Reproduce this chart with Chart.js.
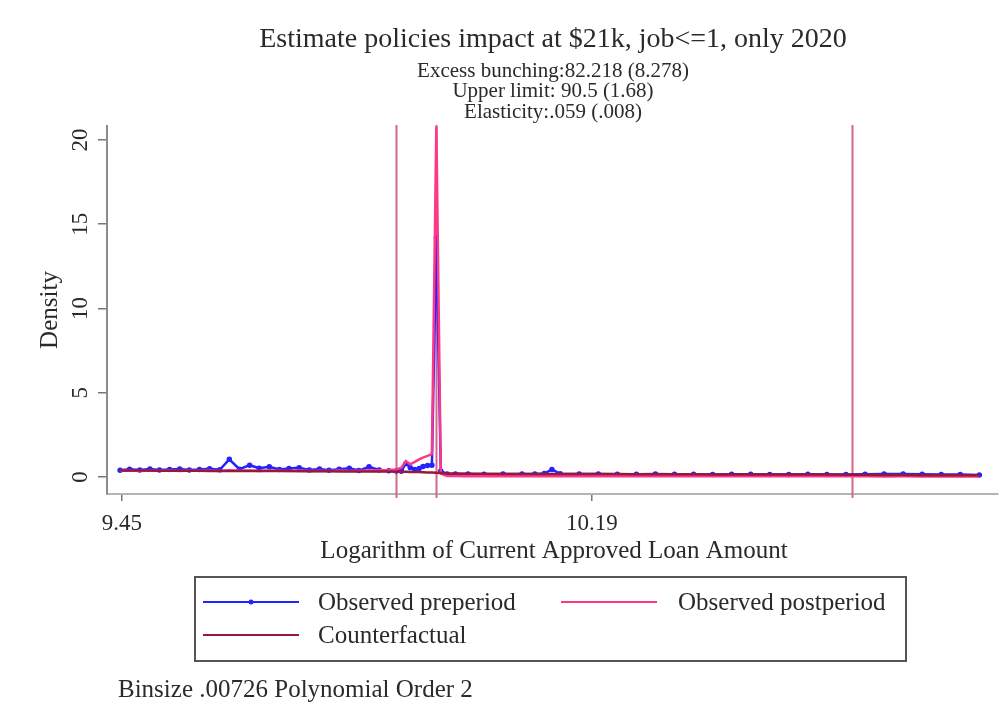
<!DOCTYPE html>
<html>
<head>
<meta charset="utf-8">
<script src="https://cdn.jsdelivr.net/npm/chart.js@4/dist/chart.umd.min.js"></script>
<style>
  html, body { margin: 0; padding: 0; background: #fff; }
  #wrap { width: 1002px; height: 709px; }
</style>
</head>
<body>
<div id="wrap"><canvas id="bunchChart" width="1002" height="709"></canvas></div>
<script>
// log loan amount bins
const binX = [
  9.447, 9.462, 9.478, 9.494, 9.509, 9.525, 9.541, 9.556, 9.572, 9.588,
  9.604, 9.619, 9.635, 9.651, 9.666, 9.682, 9.698, 9.713, 9.729, 9.745,
  9.761, 9.776, 9.792, 9.808, 9.823, 9.839, 9.855, 9.870, 9.882, 9.890,
  9.897, 9.904, 9.911, 9.918, 9.924, 9.931, 9.938, 9.945, 9.952, 9.962,
  9.975, 9.995, 10.02, 10.05, 10.08, 10.10, 10.115, 10.127, 10.14, 10.17,
  10.20, 10.23, 10.26, 10.29, 10.32, 10.35, 10.38, 10.41, 10.44, 10.47,
  10.50, 10.53, 10.56, 10.59, 10.62, 10.65, 10.68, 10.71, 10.74, 10.77, 10.80
];

// observed density before the policy
const prePeriod = [
  0.40, 0.46, 0.42, 0.47, 0.41, 0.45, 0.48, 0.42, 0.44, 0.49,
  0.43, 1.05, 0.46, 0.70, 0.52, 0.60, 0.44, 0.50, 0.55, 0.42,
  0.48, 0.40, 0.46, 0.52, 0.38, 0.60, 0.42, 0.37, 0.36, 0.34,
  0.80, 0.55, 0.45, 0.50, 0.62, 0.68, 0.70, 14.2, 0.35, 0.18,
  0.17, 0.18, 0.16, 0.17, 0.18, 0.17, 0.20, 0.45, 0.19, 0.17,
  0.17, 0.16, 0.16, 0.17, 0.16, 0.16, 0.15, 0.16, 0.16, 0.15,
  0.15, 0.16, 0.15, 0.15, 0.16, 0.17, 0.17, 0.16, 0.15, 0.14, 0.12
];

// observed density after the policy
const postPeriod = [
  0.37, 0.38, 0.36, 0.39, 0.37, 0.38, 0.36, 0.39, 0.37, 0.38,
  0.36, 0.40, 0.37, 0.39, 0.36, 0.38, 0.37, 0.36, 0.38, 0.35,
  0.37, 0.36, 0.38, 0.35, 0.37, 0.39, 0.40, 0.42, 0.45, 0.55,
  0.95, 0.75, 0.90, 1.05, 1.15, 1.25, 1.35, 20.8, 0.20, 0.06,
  0.06, 0.05, 0.05, 0.04, 0.05, 0.04, 0.05, 0.06, 0.05, 0.04,
  0.05, 0.04, 0.04, 0.05, 0.04, 0.04, 0.05, 0.04, 0.04, 0.05,
  0.04, 0.04, 0.05, 0.04, 0.04, 0.03, 0.04, 0.03, 0.03, 0.03, 0.03
];

// polynomial counterfactual (order 2)
const counterfactual = [
  0.38, 0.38, 0.38, 0.38, 0.37, 0.37, 0.37, 0.37, 0.37, 0.36,
  0.36, 0.36, 0.36, 0.36, 0.35, 0.35, 0.35, 0.35, 0.34, 0.34,
  0.34, 0.34, 0.33, 0.33, 0.33, 0.32, 0.32, 0.32, 0.31, 0.31,
  0.31, 0.30, 0.30, 0.29, 0.28, 0.27, 0.26, 0.25, 0.23, 0.21,
  0.20, 0.19, 0.19, 0.18, 0.18, 0.18, 0.18, 0.18, 0.17, 0.17,
  0.17, 0.17, 0.16, 0.16, 0.16, 0.16, 0.15, 0.15, 0.15, 0.15,
  0.14, 0.14, 0.14, 0.13, 0.13, 0.12, 0.12, 0.11, 0.11, 0.10, 0.10
];

// lower limit, bunching point, upper limit
const markerLines = [9.882, 9.945, 10.60];

const xTicks = [9.45, 10.19];
const xTickLabels = ['9.45', '10.19'];
const yTicks = [0, 5, 10, 15, 20];
const yTickLabels = ['0', '5', '10', '15', '20'];

const titleText = 'Estimate policies impact at $21k, job<=1, only 2020';
const subtitleLines = ['Excess bunching:82.218 (8.278)', 'Upper limit: 90.5 (1.68)', 'Elasticity:.059 (.008)'];
const xTitle = 'Logarithm of Current Approved Loan Amount';
const yTitle = 'Density';
const footNote = 'Binsize .00726 Polynomial Order 2';

const BLUE = 'rgb(35,35,255)';
const PINK = 'rgb(255,55,135)';
const MAROON = 'rgb(150,25,60)';
const XLINE = 'rgb(210,105,140)';
const SERIF = '"Liberation Serif", "DejaVu Serif", serif';

function toPoints(ys) {
  return binX.map((x, i) => ({ x: x, y: ys[i] }));
}

// text, reference lines and legend drawn around the plot
const decorations = {
  id: 'decorations',
  beforeDatasetsDraw(chart) {
    const ctx = chart.ctx;
    const xs = chart.scales.x;
    const area = chart.chartArea;
    ctx.save();
    ctx.strokeStyle = XLINE;
    ctx.lineWidth = 2;
    markerLines.forEach(v => {
      const px = Math.round(xs.getPixelForValue(v)) + 0.5;
      ctx.beginPath();
      ctx.moveTo(px, area.top - 1);
      ctx.lineTo(px, area.bottom + 4);
      ctx.stroke();
    });
    ctx.restore();
  },
  afterDraw(chart) {
    const ctx = chart.ctx;
    const ys = chart.scales.y;
    ctx.save();
    ctx.fillStyle = '#2a2a2a';
    ctx.textBaseline = 'middle';

    // titles
    ctx.textAlign = 'center';
    ctx.font = '28px ' + SERIF;
    ctx.fillText(titleText, 553, 40);
    ctx.font = '21px ' + SERIF;
    subtitleLines.forEach((t, i) => ctx.fillText(t, 553, 71 + i * 20.5));

    // y tick labels, rotated like the axis title
    ctx.font = '23px ' + SERIF;
    yTicks.forEach((v, i) => {
      ctx.save();
      ctx.translate(81, ys.getPixelForValue(v));
      ctx.rotate(-Math.PI / 2);
      ctx.fillText(yTickLabels[i], 0, 0);
      ctx.restore();
    });
    ctx.save();
    ctx.translate(50, 310);
    ctx.rotate(-Math.PI / 2);
    ctx.font = '25px ' + SERIF;
    ctx.fillText(yTitle, 0, 0);
    ctx.restore();

    ctx.font = '25px ' + SERIF;
    ctx.fillText(xTitle, 554, 551);

    // legend box
    ctx.strokeStyle = '#555';
    ctx.lineWidth = 2;
    ctx.strokeRect(195, 577, 711, 84);
    const rows = [
      { color: BLUE, x1: 203, x2: 299, tx: 318, y: 602, label: 'Observed preperiod', dot: true },
      { color: PINK, x1: 561, x2: 657, tx: 678, y: 602, label: 'Observed postperiod' },
      { color: MAROON, x1: 203, x2: 299, tx: 318, y: 635, label: 'Counterfactual' }
    ];
    ctx.textAlign = 'left';
    rows.forEach(r => {
      ctx.strokeStyle = r.color;
      ctx.lineWidth = 2;
      ctx.beginPath();
      ctx.moveTo(r.x1, r.y);
      ctx.lineTo(r.x2, r.y);
      ctx.stroke();
      if (r.dot) {
        ctx.fillStyle = r.color;
        ctx.beginPath();
        ctx.arc((r.x1 + r.x2) / 2, r.y, 2.5, 0, Math.PI * 2);
        ctx.fill();
      }
      ctx.fillStyle = '#2a2a2a';
      ctx.fillText(r.label, r.tx, r.y + 1);
    });

    ctx.font = '25px ' + SERIF;
    ctx.fillText(footNote, 118, 690);
    ctx.restore();
  }
};

const ctx = document.getElementById('bunchChart').getContext('2d');
new Chart(ctx, {
  type: 'line',
  data: {
    datasets: [
      {
        label: 'Observed preperiod',
        data: toPoints(prePeriod),
        borderColor: BLUE,
        backgroundColor: BLUE,
        borderWidth: 2.5,
        pointRadius: 1.5,
        pointHoverRadius: 1.5,
        tension: 0,
        clip: false,
        order: 3
      },
      {
        label: 'Observed postperiod',
        data: toPoints(postPeriod),
        borderColor: PINK,
        backgroundColor: PINK,
        borderWidth: 2.5,
        pointRadius: 0,
        tension: 0,
        clip: false,
        order: 2
      },
      {
        label: 'Counterfactual',
        data: toPoints(counterfactual),
        borderColor: MAROON,
        backgroundColor: MAROON,
        borderWidth: 2.5,
        pointRadius: 0,
        tension: 0,
        clip: false,
        order: 1
      }
    ]
  },
  options: {
    responsive: false,
    animation: false,
    events: [],
    layout: { padding: { top: 126, right: 2, bottom: 155, left: 0 } },
    plugins: {
      legend: { display: false },
      title: { display: false },
      tooltip: { enabled: false }
    },
    scales: {
      x: {
        type: 'linear',
        min: 9.4264,
        max: 10.8294,
        afterBuildTicks: s => { s.ticks = xTicks.map(v => ({ value: v })); },
        afterFit: s => { s.height = 60; },
        grid: { display: true, drawOnChartArea: false, tickLength: 7, color: '#777', lineWidth: 1.5 },
        border: { display: true, color: '#b4b4b4', width: 2 },
        ticks: {
          padding: 9,
          color: '#2a2a2a',
          font: { family: SERIF, size: 23 },
          maxRotation: 0,
          callback: (v, i) => xTickLabels[i]
        }
      },
      y: {
        type: 'linear',
        min: -1.01,
        max: 20.83,
        afterBuildTicks: s => { s.ticks = yTicks.map(v => ({ value: v })); },
        afterFit: s => { s.width = 107; },
        grid: { display: true, drawOnChartArea: false, tickLength: 9, color: '#777', lineWidth: 1.5 },
        border: { display: true, color: '#8c8c8c', width: 2 },
        ticks: { display: false }
      }
    }
  },
  plugins: [decorations]
});
</script>
</body>
</html>
